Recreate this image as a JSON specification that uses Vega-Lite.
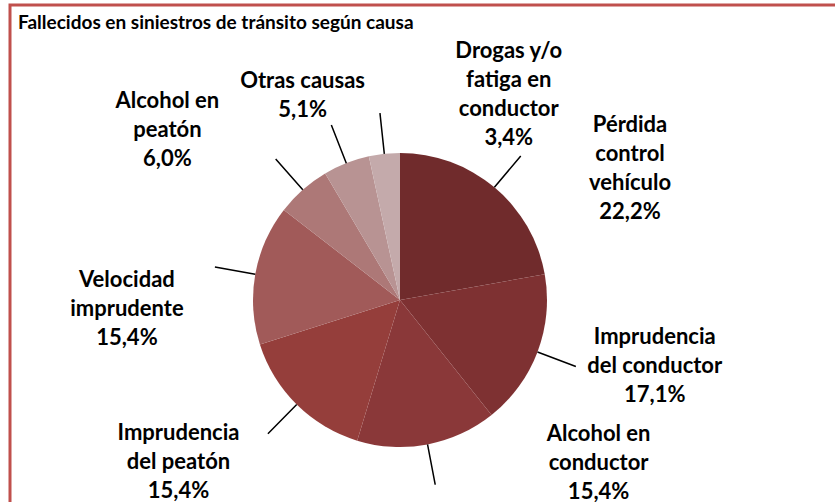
{
  "$schema": "https://vega.github.io/schema/vega-lite/v6.json",
  "width": 835,
  "height": 502,
  "autosize": "none",
  "padding": {"left": 10, "top": 5, "right": 0, "bottom": 0},
  "background": "white",
  "view": {"stroke": "#c0504d", "strokeWidth": 3},
  "config": {"view": {"stroke": "#c0504d", "strokeWidth": 3}},
  "title": {"text": "Fallecidos  en siniestros de tránsito según causa", "anchor": "start", "orient": "top", "frame": "group", "offset": -43, "dx": 8, "baseline": "alphabetic", "font": "Lato", "fontSize": 19, "fontWeight": "bold", "color": "black"},
  "data": {"values": [
    {"cause": "Pérdida control vehículo", "label": "Pérdida\ncontrol\nvehículo\n22,2%", "value": 22.2, "order": 1},
    {"cause": "Imprudencia del conductor", "label": "Imprudencia\ndel conductor\n17,1%", "value": 17.1, "order": 2},
    {"cause": "Alcohol en conductor", "label": "Alcohol  en\nconductor\n15,4%", "value": 15.4, "order": 3},
    {"cause": "Imprudencia del peatón", "label": "Imprudencia\ndel peatón\n15,4%", "value": 15.4, "order": 4},
    {"cause": "Velocidad imprudente", "label": "Velocidad\nimprudente\n15,4%", "value": 15.4, "order": 5},
    {"cause": "Alcohol en peatón", "label": "Alcohol  en\npeatón\n6,0%", "value": 6.0, "order": 6},
    {"cause": "Otras causas", "label": "Otras causas\n5,1%", "value": 5.1, "order": 7},
    {"cause": "Drogas y/o fatiga en conductor", "label": "Drogas  y/o\nfatiga  en\nconductor\n3,4%", "value": 3.4, "order": 8}
  ]},
  "transform": [
    {"stack": "value", "groupby": [], "sort": [{"field": "order", "order": "ascending"}], "as": ["v0", "v1"]},
    {"calculate": "(datum.v0 + datum.v1) / 2", "as": "mid"}
  ],
  "layer": [
    {
      "mark": {"type": "arc", "x": 390, "y": 295, "outerRadius": 147},
      "encoding": {
        "theta": {"field": "v0", "type": "quantitative", "scale": {"domain": [0, 100]}},
        "theta2": {"field": "v1"},
        "color": {"field": "cause", "type": "nominal", "legend": null,
          "scale": {"domain": ["Pérdida control vehículo", "Imprudencia del conductor", "Alcohol en conductor", "Imprudencia del peatón", "Velocidad imprudente", "Alcohol en peatón", "Otras causas", "Drogas y/o fatiga en conductor"],
                    "range": ["#702b2c", "#7e3132", "#8a3839", "#953e3b", "#a15a59", "#ad7877", "#b89393", "#c4aaab"]}}
      }
    },
    {
      "mark": {"type": "arc", "x": 390, "y": 295, "outerRadius": 188, "innerRadius": 147, "stroke": "black", "strokeWidth": 1.5, "fill": null},
      "encoding": {
        "theta": {"field": "mid", "type": "quantitative"},
        "theta2": {"field": "mid"}
      }
    },
    {
      "transform": [{"filter": "datum.order == 1"}],
      "mark": {"type": "text", "x": 390, "y": 295, "radius": 190, "dx": 108, "dy": -29.5, "font": "Lato", "fontWeight": "bold", "fontSize": 22, "letterSpacing": 1.4, "lineBreak": "\n", "lineHeight": 29, "align": "center", "baseline": "middle", "color": "black"},
      "encoding": {"theta": {"field": "mid", "type": "quantitative"}, "text": {"field": "label"}}
    },
    {
      "transform": [{"filter": "datum.order == 2"}],
      "mark": {"type": "text", "x": 390, "y": 295, "radius": 190, "dx": 77, "dy": -30, "font": "Lato", "fontWeight": "bold", "fontSize": 22, "letterSpacing": 1.4, "lineBreak": "\n", "lineHeight": 29, "align": "center", "baseline": "middle", "color": "black"},
      "encoding": {"theta": {"field": "mid", "type": "quantitative"}, "text": {"field": "label"}}
    },
    {
      "transform": [{"filter": "datum.order == 3"}],
      "mark": {"type": "text", "x": 390, "y": 295, "radius": 190, "dx": 163, "dy": -53, "font": "Lato", "fontWeight": "bold", "fontSize": 22, "letterSpacing": 1.4, "lineBreak": "\n", "lineHeight": 29, "align": "center", "baseline": "middle", "color": "black"},
      "encoding": {"theta": {"field": "mid", "type": "quantitative"}, "text": {"field": "label"}}
    },
    {
      "transform": [{"filter": "datum.order == 4"}],
      "mark": {"type": "text", "x": 390, "y": 295, "radius": 190, "dx": -88, "dy": -2, "font": "Lato", "fontWeight": "bold", "fontSize": 22, "letterSpacing": 1.4, "lineBreak": "\n", "lineHeight": 29, "align": "center", "baseline": "middle", "color": "black"},
      "encoding": {"theta": {"field": "mid", "type": "quantitative"}, "text": {"field": "label"}}
    },
    {
      "transform": [{"filter": "datum.order == 5"}],
      "mark": {"type": "text", "x": 390, "y": 295, "radius": 190, "dx": -86, "dy": 13, "font": "Lato", "fontWeight": "bold", "fontSize": 22, "letterSpacing": 1.4, "lineBreak": "\n", "lineHeight": 29, "align": "center", "baseline": "middle", "color": "black"},
      "encoding": {"theta": {"field": "mid", "type": "quantitative"}, "text": {"field": "label"}}
    },
    {
      "transform": [{"filter": "datum.order == 6"}],
      "mark": {"type": "text", "x": 390, "y": 295, "radius": 190, "dx": -107, "dy": -56, "font": "Lato", "fontWeight": "bold", "fontSize": 22, "letterSpacing": 1.4, "lineBreak": "\n", "lineHeight": 29, "align": "center", "baseline": "middle", "color": "black"},
      "encoding": {"theta": {"field": "mid", "type": "quantitative"}, "text": {"field": "label"}}
    },
    {
      "transform": [{"filter": "datum.order == 7"}],
      "mark": {"type": "text", "x": 390, "y": 295, "radius": 190, "dx": -28, "dy": -42.5, "font": "Lato", "fontWeight": "bold", "fontSize": 22, "letterSpacing": 1.4, "lineBreak": "\n", "lineHeight": 29, "align": "center", "baseline": "middle", "color": "black"},
      "encoding": {"theta": {"field": "mid", "type": "quantitative"}, "text": {"field": "label"}}
    },
    {
      "transform": [{"filter": "datum.order == 8"}],
      "mark": {"type": "text", "x": 390, "y": 295, "radius": 190, "dx": 129, "dy": -60.5, "font": "Lato", "fontWeight": "bold", "fontSize": 22, "letterSpacing": 1.4, "lineBreak": "\n", "lineHeight": 29, "align": "center", "baseline": "middle", "color": "black"},
      "encoding": {"theta": {"field": "mid", "type": "quantitative"}, "text": {"field": "label"}}
    }
  ]
}
